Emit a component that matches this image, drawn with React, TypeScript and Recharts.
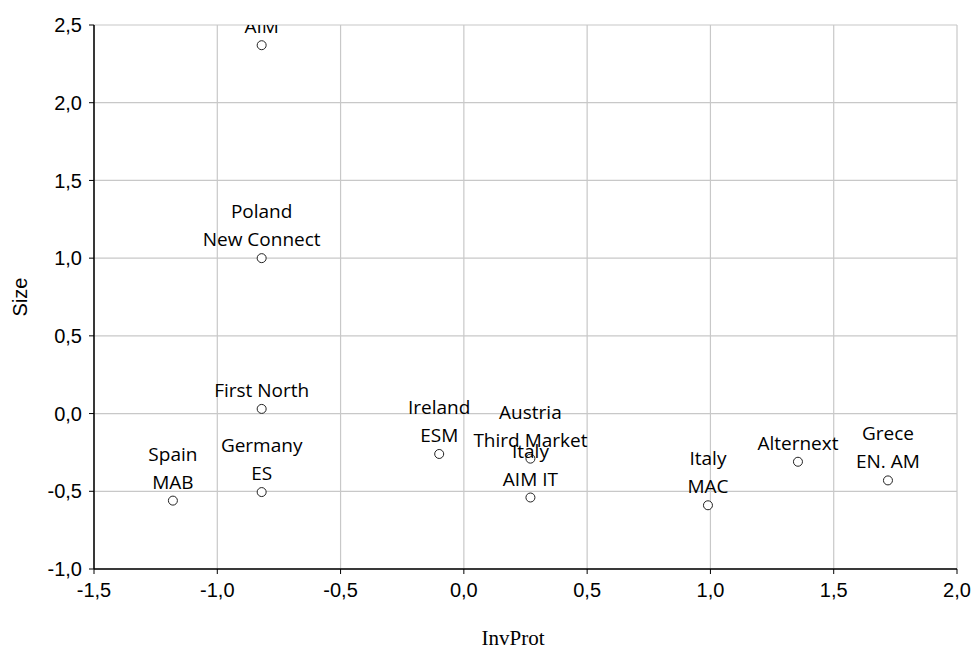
import { ScatterChart, Scatter, XAxis, YAxis, CartesianGrid } from "recharts";

// market positions (InvProt vs Size)
const invProt = [-0.82, -0.82, -0.82, -0.82, -1.18, -0.1, 0.27, 0.27, 0.99, 1.355, 1.72];
const size = [2.37, 1.0, 0.03, -0.505, -0.56, -0.26, -0.29, -0.54, -0.59, -0.31, -0.43];
const labelTop = ["", "Poland", "", "Germany", "Spain", "Ireland", "Austria", "Italy", "Italy", "", "Grece"];
const labelBottom = ["AIM", "New Connect", "First North", "ES", "MAB", "ESM", "Third Market", "AIM IT", "MAC", "Alternext", "EN. AM"];

const xTicks = [-1.5, -1.0, -0.5, 0.0, 0.5, 1.0, 1.5, 2.0];
const yTicks = [-1.0, -0.5, 0.0, 0.5, 1.0, 1.5, 2.0, 2.5];

const points = invProt.map((x, i) => ({
  x,
  y: size[i],
  top: labelTop[i],
  bottom: labelBottom[i],
}));

const fmt = (v: number) => v.toFixed(1).replace(".", ",");
const noLabel = () => "";

const tickFont = { fontFamily: "'Liberation Sans', Arial, sans-serif", fontSize: 20, fill: "#000" };

const MarketPoint = (props: any) => {
  const { cx, cy, payload } = props;
  if (cx == null || cy == null) return null;
  const labelStyle = { fontFamily: "'Open Sans', sans-serif", fontSize: 19, fill: "#000" };
  return (
    <g>
      {payload.top && (
        <text x={cx} y={cy - 47} textAnchor="middle" dominantBaseline="central" style={labelStyle}>
          {payload.top}
        </text>
      )}
      <text x={cx} y={cy - 19} textAnchor="middle" dominantBaseline="central" style={labelStyle}>
        {payload.bottom}
      </text>
      <circle cx={cx} cy={cy} r={4.5} fill="#fff" stroke="#222" strokeWidth={1} />
    </g>
  );
};

export default function App() {
  return (
    <div style={{ position: "absolute", left: 0, top: 0, width: 974, height: 652, background: "#fff" }}>
      <ScatterChart width={974} height={652} margin={{ top: 25, right: 17, bottom: 0, left: 0 }}>
        <CartesianGrid stroke="#c8c8c8" strokeWidth={1.2} />
        <XAxis
          type="number"
          dataKey="x"
          domain={[-1.5, 2]}
          ticks={xTicks}
          tickFormatter={fmt}
          height={83}
          tickSize={5}
          tickMargin={9}
          axisLine={{ stroke: "#000", strokeWidth: 1.5 }}
          tickLine={{ stroke: "#000" }}
          tick={tickFont}
          allowDataOverflow
        />
        <XAxis
          xAxisId="top"
          orientation="top"
          type="number"
          domain={[-1.5, 2]}
          ticks={xTicks}
          tickFormatter={noLabel}
          height={0}
          mirror
          tickSize={4}
          axisLine={{ stroke: "#000", strokeWidth: 1.5 }}
          tickLine={{ stroke: "#000" }}
        />
        <YAxis
          type="number"
          dataKey="y"
          domain={[-1, 2.5]}
          ticks={yTicks}
          tickFormatter={fmt}
          width={94}
          tickSize={5}
          tickMargin={7}
          axisLine={{ stroke: "#000", strokeWidth: 1.5 }}
          tickLine={{ stroke: "#000" }}
          tick={tickFont}
          allowDataOverflow
        />
        <YAxis
          yAxisId="right"
          orientation="right"
          type="number"
          domain={[-1, 2.5]}
          ticks={yTicks}
          tickFormatter={noLabel}
          width={0}
          mirror
          tickSize={4}
          axisLine={{ stroke: "#000", strokeWidth: 1.5 }}
          tickLine={{ stroke: "#000" }}
        />
        <Scatter data={points} shape={MarketPoint} isAnimationActive={false} />
      </ScatterChart>
      <div
        style={{
          position: "absolute",
          left: 20,
          top: 297,
          transform: "translate(-50%, -50%) rotate(-90deg)",
          fontFamily: "'Liberation Sans', Arial, sans-serif",
          fontSize: 20,
          color: "#000",
          whiteSpace: "nowrap",
        }}
      >
        Size
      </div>
      <div
        style={{
          position: "absolute",
          left: 513,
          top: 638,
          transform: "translate(-50%, -50%)",
          fontFamily: "'Liberation Serif', 'Times New Roman', serif",
          fontSize: 21,
          color: "#000",
          whiteSpace: "nowrap",
          lineHeight: 1,
        }}
      >
        InvProt
      </div>
    </div>
  );
}
